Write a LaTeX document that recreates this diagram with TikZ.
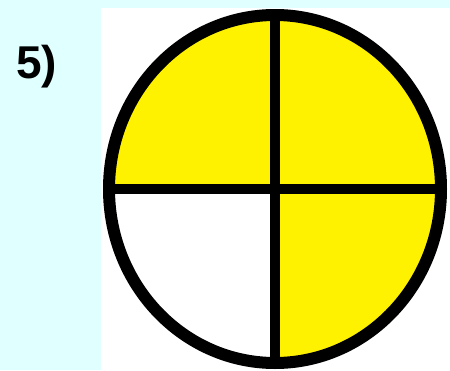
\documentclass[tikz,border=0pt]{standalone}
\usepackage{fontspec}
\setmainfont{Liberation Sans}
\usetikzlibrary{positioning}
\definecolor{paleCyan}{RGB}{224,255,255}

\begin{document}
\begin{tikzpicture}[x=1pt,y=-1pt,
  part/.style={fill=yellow},
  rim/.style={draw=black,line width=12pt},
  cross/.style={draw=black,line width=10pt},
  tag/.style={font=\bfseries\fontsize{46}{50}\selectfont,inner sep=0pt,anchor=base west}]
\useasboundingbox (0,0) rectangle (450,370);
\fill[paleCyan] (0,0) rectangle (450,370);
\fill[white] (101,8) rectangle (450,370);
\coordinate (c) at (275,189);
\coordinate (top) at (275,15);
\coordinate (bot) at (275,363);
\coordinate (lft) at (109,189);
\coordinate (rgt) at (441,189);
% three shaded quarters
\begin{scope}
  \clip (c) ellipse (166 and 174);
  \fill[part] (lft |- top) rectangle (rgt);
  \fill[part] (c) rectangle (rgt |- bot);
\end{scope}
\draw[rim] (c) ellipse (166 and 174);
\draw[cross] (top) -- (bot);
\draw[cross] (lft) -- (rgt);
\node[tag] (num) at (16,78) {5)};
\end{tikzpicture}
\end{document}
